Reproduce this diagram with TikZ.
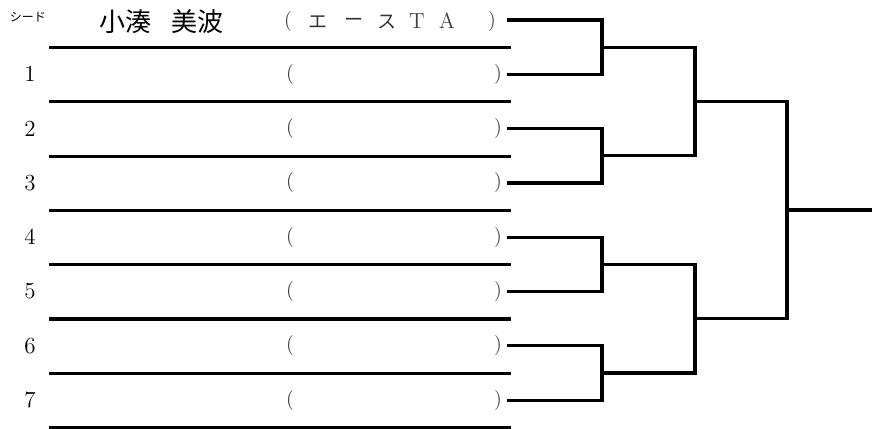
\documentclass[tikz,border=0pt]{standalone}
\usepackage{fontspec}
\newfontfamily\jpfont{Noto Sans CJK JP}

\begin{document}
\begin{tikzpicture}[x=0.5pt,y=-0.5pt,
	entry/.style={line width=1.6pt},
	bracket/.style={line width=1.6pt, line cap=rect},
	num/.style={font=\fontsize{11.5}{13}\selectfont, inner sep=0pt},
	paren/.style={font=\fontsize{10}{12}\selectfont, inner sep=0pt, text=black!75},
	kana/.style={font=\jpfont\fontsize{9.5}{11}\selectfont, inner sep=0pt, text=black!80}]
		\useasboundingbox (0,0) rectangle (872,428);

		% Seed row
		\node[font=\jpfont\fontsize{6}{7}\selectfont, inner sep=0pt] (seed) at (28,17) {シード};
		\node[font=\jpfont\fontsize{13}{15}\selectfont, inner sep=0pt] (name) at (161.5,22) {小湊\hspace{10pt}美波};
		\node[paren] (lp0) at (288,21) {(};
		\node[kana] (ka) at (318,22) {エ};
		\node[kana] (kb) at (354,22) {ー};
		\node[kana] (kc) at (387,22) {ス};
		\node[paren, font=\fontsize{11}{13}\selectfont] (kd) at (417,21) {T};
		\node[paren, font=\fontsize{11}{13}\selectfont] (ke) at (447,21) {A};
		\node[paren] (rp0) at (492,21) {)};

		% Rows 1 to 7
		\foreach \i in {1,...,7} {
			\node[num] (n\i) at (30,{20+54.3*\i}) {\i};
			\node[paren] (lp\i) at (290,{20+54.3*\i}) {(};
			\node[paren] (rp\i) at (498,{20+54.3*\i}) {)};
		}

		% Lines under the names
		\foreach \i in {0,...,7}
			\draw[entry] (49,{47.5+54.3*\i}) -- (511,{47.5+54.3*\i});

		% Ends of the bracket
		\foreach \i in {0,...,7}
			\coordinate (e\i) at (509,{20+54.3*\i});
		\coordinate (j1) at (602,47.15);
		\coordinate (j2) at (602,155.75);
		\coordinate (j3) at (602,264.35);
		\coordinate (j4) at (602,372.95);
		\coordinate (q1) at (695,101.45);
		\coordinate (q2) at (695,318.65);
		\coordinate (f) at (787,210.05);
		\coordinate (win) at (872,210.05);

		% First round
		\draw[bracket] (e0) -| (j1) |- (e1);
		\draw[bracket] (e2) -| (j2) |- (e3);
		\draw[bracket] (e4) -| (j3) |- (e5);
		\draw[bracket] (e6) -| (j4) |- (e7);
		% Second round
		\draw[bracket] (j1) -| (q1) |- (j2);
		\draw[bracket] (j3) -| (q2) |- (j4);
		% Final
		\draw[bracket] (q1) -| (f) |- (q2);
		\draw[bracket] (f) -- (win);
	\end{tikzpicture}
\end{document}
